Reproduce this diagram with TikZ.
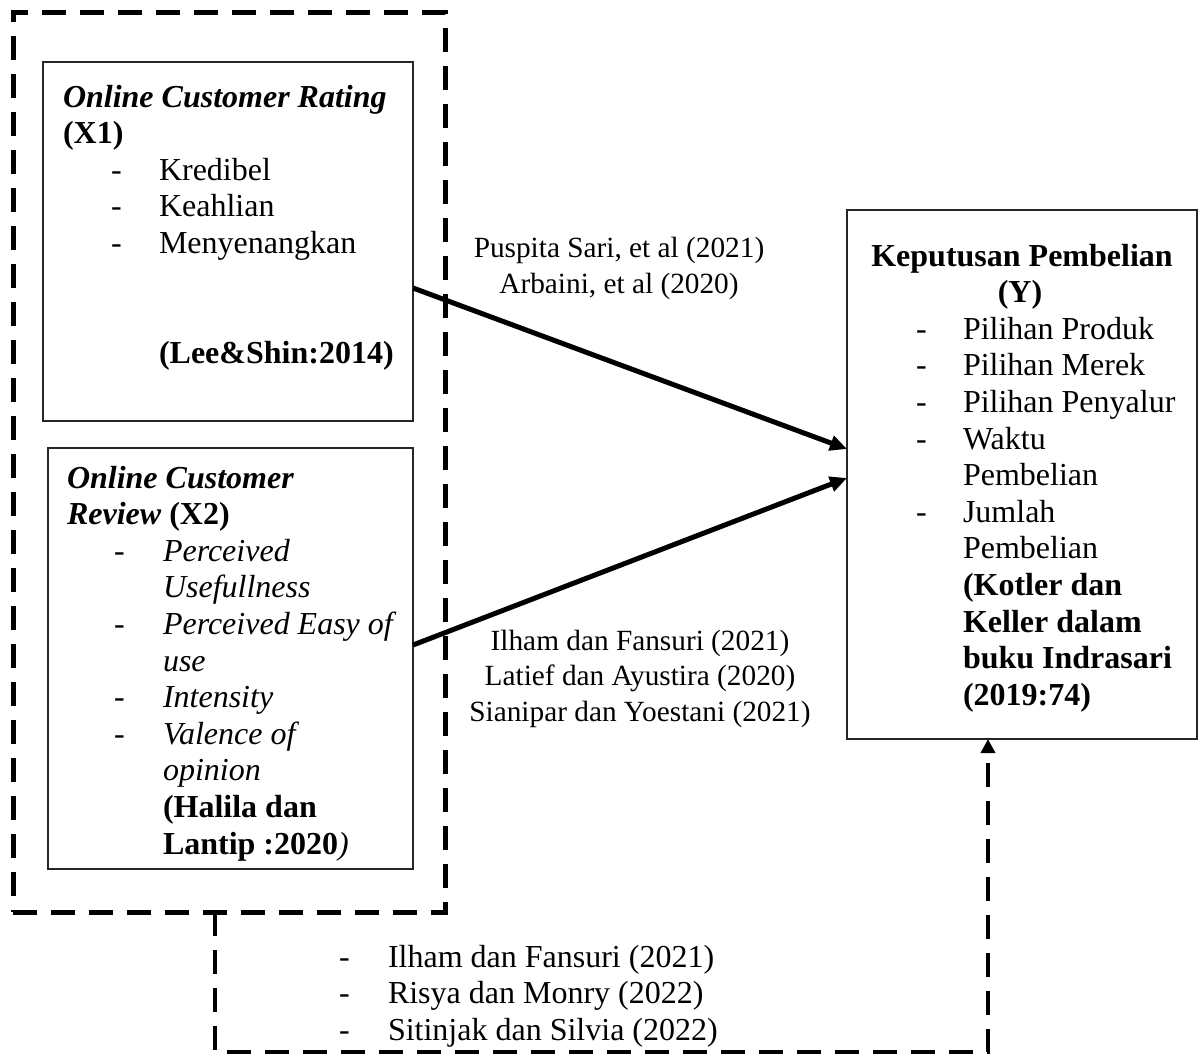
\documentclass[tikz,border=0pt]{standalone}
\usepackage{fontspec}
\setmainfont{Liberation Serif}
\usetikzlibrary{arrows.meta}
\begin{document}
\begin{tikzpicture}[x=1pt,y=-1pt,
 txt/.style={inner sep=0pt,outer sep=0pt,anchor=base west,font=\fontsize{32}{36.6}\selectfont},
 lbl/.style={inner sep=0pt,outer sep=0pt,anchor=base,font=\fontsize{29.3}{35.5}\selectfont},
 varbox/.style={draw=black!85,line width=1.2pt,inner sep=0pt,outer sep=0pt},
 grpbox/.style={draw,line width=5pt,dash pattern=on 24pt off 14pt,inner sep=0pt,outer sep=0pt},
 arr/.style={line width=5pt,-{Triangle[length=17pt,width=15pt]}},
 dconn/.style={line width=4.5pt,dash pattern=on 24pt off 14pt,-{Triangle[length=14pt,width=14pt]}}]
\fill[white] (0,0) rectangle (1198,1057);
\useasboundingbox (0,0) rectangle (1198,1057);

% group box
\node[grpbox,minimum width=432pt,minimum height=899pt] (grp) at (229,462.5) {};

% boxes
\node[varbox,minimum width=370pt,minimum height=359pt] (x1) at (228,241.5) {};
\node[varbox,minimum width=365pt,minimum height=421pt] (x2) at (230.5,658.5) {};
\node[varbox,minimum width=350pt,minimum height=529pt] (y) at (1022,474.5) {};

% X1 text
\node[txt] (x1h1) at (63,107) {\textbf{\textit{Online Customer Rating}}};
\node[txt] (x1h2) at (63,143.6) {\textbf{(X1)}};
\foreach \t [count=\i from 0] in {Kredibel,Keahlian,Menyenangkan}{
  \node[txt] (x1d\i) at (111,180.2+36.6*\i) {-};
  \node[txt] (x1i\i) at (159,180.2+36.6*\i) {\t};
}
\node[txt] (x1src) at (159,363.2) {\textbf{(Lee\&Shin:2014)}};

% X2 text
\node[txt] (x2h1) at (67,488) {\textbf{\textit{Online Customer}}};
\node[txt] (x2h2) at (67,524.6) {\textbf{\textit{Review} (X2)}};
\foreach \t/\d [count=\i from 0] in {Perceived/-,Usefullness/,Perceived Easy of/-,use/,Intensity/-,Valence of/-,opinion/}{
  \node[txt] (x2d\i) at (114,561.2+36.6*\i) {\d};
  \node[txt] (x2i\i) at (163,561.2+36.6*\i) {\textit{\t}};
}
\node[txt] (x2s1) at (163,817.4) {\textbf{(Halila dan}};
\node[txt] (x2s2) at (163,854) {\textbf{Lantip :2020}\textit{)}};

% Y text
\node[txt,anchor=base] (yh1) at (1022,266) {\textbf{Keputusan Pembelian}};
\node[txt,anchor=base] (yh2) at (1020,302.6) {\textbf{(Y)}};
\foreach \t/\d [count=\i from 0] in {Pilihan Produk/-,Pilihan Merek/-,Pilihan Penyalur/-,Waktu/-,Pembelian/,Jumlah/-,Pembelian/}{
  \node[txt] (yd\i) at (916,339.2+36.6*\i) {\d};
  \node[txt] (yi\i) at (963,339.2+36.6*\i) {\t};
}
\node[txt] (ys0) at (963,595.4) {\textbf{(Kotler dan}};
\node[txt] (ys1) at (963,632) {\textbf{Keller dalam}};
\node[txt] (ys2) at (963,668.6) {\textbf{buku Indrasari}};
\node[txt] (ys3) at (963,705.2) {\textbf{(2019:74)}};

% arrows
\draw[arr] ([yshift=-46.5pt]x1.east) -- ([yshift=25.5pt]y.west);
\draw[arr] ([yshift=13.5pt]x2.east) -- ([yshift=-3.5pt]y.west);
\draw[dconn] ([xshift=-14pt]grp.south) -- ++(0,140) -| ([xshift=-34pt]y.south);

% arrow labels
\node[lbl] (l1a) at (619,257) {Puspita Sari, et al (2021)};
\node[lbl] (l1b) at (619,293) {Arbaini, et al (2020)};
\node[lbl] (l2a) at (640,650) {Ilham dan Fansuri (2021)};
\node[lbl] (l2b) at (640,685.5) {Latief dan Ayustira (2020)};
\node[lbl] (l2c) at (640,721) {Sianipar dan Yoestani (2021)};

% bottom list
\foreach \t [count=\i from 0] in {Ilham dan Fansuri (2021),Risya dan Monry (2022),Sitinjak dan Silvia (2022)}{
  \node[txt] (bd\i) at (339,967+36.6*\i) {-};
  \node[txt] (bi\i) at (388,967+36.6*\i) {\t};
}
\end{tikzpicture}
\end{document}
